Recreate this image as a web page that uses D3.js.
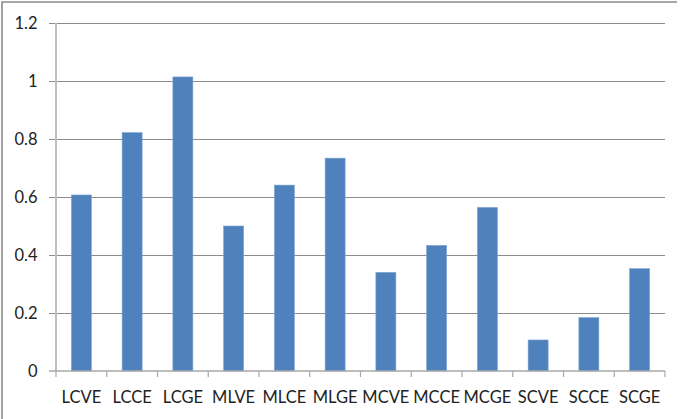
<!DOCTYPE html>
<html>
<head>
<meta charset="utf-8">
<script src="https://cdn.jsdelivr.net/npm/d3@7"></script>
<style>
  html, body { margin: 0; padding: 0; background: #fff; }
  svg { display: block; }
  text { font-family: Lato, "Open Sans", sans-serif; fill: #222; }
</style>
</head>
<body>
<svg id="chart" width="681" height="419"></svg>
<script>
const categories = ["LCVE","LCCE","LCGE","MLVE","MLCE","MLGE","MCVE","MCCE","MCGE","SCVE","SCCE","SCGE"];
const values = [0.607, 0.822, 1.014, 0.500, 0.641, 0.734, 0.340, 0.433, 0.564, 0.107, 0.184, 0.353];
const yTicks = [0, 0.2, 0.4, 0.6, 0.8, 1, 1.2];
const yTickLabels = ["0","0.2","0.4","0.6","0.8","1","1.2"];

(function () {
const svg = d3.select("#chart");
const W = 681, H = 419;
const pLeft = 56, pRight = 665, pTop = 23, pBottom = 371;

// outer frame (left and top edges visible)
svg.append("path")
  .attr("d", `M2,${H} L2,2 L677,2`)
  .attr("fill", "none")
  .attr("stroke", "#8a8a8a")
  .attr("stroke-width", 1.6);

const x = d3.scaleBand().domain(categories).range([pLeft, pRight]).paddingInner(0).paddingOuter(0);
const y = d3.scaleLinear().domain([0, 1.2]).range([pBottom, pTop]);

// gridlines + y ticks
const yAxis = d3.axisLeft(y)
  .tickValues(yTicks.slice(1))
  .tickSize(-(pRight - pLeft))
  .tickFormat("");
const gy = svg.append("g").attr("transform", `translate(${pLeft},0)`).call(yAxis);
gy.select(".domain").remove();
gy.selectAll(".tick line")
  .attr("x1", -7)
  .attr("stroke", "#8c8c8c")
  .attr("stroke-width", 1)
  .attr("shape-rendering", "crispEdges");

// y labels
svg.append("g").selectAll("text")
  .data(yTicks)
  .join("text")
  .attr("x", 37.5)
  .attr("y", d => y(d))
  .attr("dy", "0.35em")
  .attr("text-anchor", "end")
  .style("font-size", "16.5px")
  .text((d, i) => yTickLabels[i]);

// bars
const bw = 20;
svg.append("g").selectAll("rect")
  .data(values)
  .join("rect")
  .attr("x", (d, i) => x(categories[i]) + x.bandwidth() / 2 - bw / 2)
  .attr("y", d => y(d))
  .attr("width", bw)
  .attr("height", d => y(0) - y(d))
  .attr("fill", "#4f81bd")
  .attr("stroke", "#7ea2d3")
  .attr("stroke-width", 0.6);

// y axis line
svg.append("line")
  .attr("x1", pLeft).attr("x2", pLeft)
  .attr("y1", pTop).attr("y2", pBottom)
  .attr("stroke", "#bfbfbf").attr("stroke-width", 2);

// x axis line and category ticks
svg.append("line")
  .attr("x1", pLeft - 7).attr("x2", pRight)
  .attr("y1", pBottom).attr("y2", pBottom)
  .attr("stroke", "#a8a8a8").attr("stroke-width", 1.5);

const bounds = categories.map(c => x(c)).concat([pRight]);
svg.append("g").selectAll("line")
  .data(bounds)
  .join("line")
  .attr("x1", d => d).attr("x2", d => d)
  .attr("y1", pBottom).attr("y2", pBottom + 6)
  .attr("stroke", "#a8a8a8").attr("stroke-width", 1.2);

// x labels
svg.append("g").selectAll("text")
  .data(categories)
  .join("text")
  .attr("x", d => x(d) + x.bandwidth() / 2)
  .attr("y", 402.5)
  .attr("text-anchor", "middle")
  .style("font-size", "16.5px")
  .text(d => d);
})();
</script>
</body>
</html>
